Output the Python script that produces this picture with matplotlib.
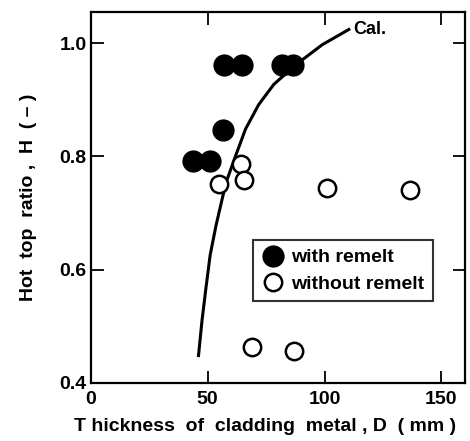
import matplotlib.pyplot as plt

plt.rcParams['font.family'] = ['Liberation Sans', 'DejaVu Sans']
plt.rcParams['font.weight'] = 'bold'
plt.rcParams['axes.labelweight'] = 'bold'

# data
with_x = [43.8, 51.1, 56.6, 57.2, 64.6, 81.8, 86.3]
with_y = [0.791, 0.791, 0.846, 0.962, 0.962, 0.962, 0.962]

without_x = [54.7, 64.4, 65.6, 101.1, 136.6, 69.0, 87.1]
without_y = [0.751, 0.787, 0.759, 0.744, 0.740, 0.463, 0.457]

# calculated curve
cal_x = [46.1, 47.6, 49.3, 51.1, 53.6, 55.9, 57.9, 61.9, 66.2, 71.8, 78.3,
         84.0, 90.4, 99.0, 110.4]
cal_y = [0.448, 0.510, 0.568, 0.626, 0.678, 0.719, 0.754, 0.800, 0.848, 0.891,
         0.927, 0.948, 0.970, 0.997, 1.024]

xticks = [0, 50, 100, 150]
yticks = [0.4, 0.6, 0.8, 1.0]

fig = plt.figure(figsize=(4.7, 4.41), dpi=100)
ax = fig.add_axes([0.193, 0.132, 0.796, 0.841])

ax.plot(cal_x, cal_y, color='black', lw=2.2, solid_joinstyle='round')
ax.text(112.3, 1.024, 'Cal.', fontsize=13, va='center', ha='left')

ax.plot(with_x, with_y, 'o', ms=14.5, mfc='black', mec='black', mew=1.5,
        ls='none', label='with remelt')
ax.plot(without_x, without_y, 'o', ms=12.5, mfc='white', mec='black', mew=1.8,
        ls='none', label='without remelt')

ax.set_xlim(0, 160)
ax.set_ylim(0.4, 1.055)
ax.set_xticks(xticks)
ax.set_yticks(yticks)
ax.set_xticklabels([str(v) for v in xticks])
ax.set_yticklabels(['%.1f' % v for v in yticks])
ax.tick_params(direction='in', length=9, width=1.3, labelsize=14,
               top=True, right=True, pad=3)
ax.tick_params(axis='x', pad=6)
for s in ax.spines.values():
    s.set_linewidth(1.6)

# axis titles placed as in the original scan
fig.text(0.565, 0.033, 'T hickness  of  cladding  metal , D  ( mm )',
         fontsize=14, fontweight='bold', ha='center', va='center')
fig.text(0.06, 0.552, 'Hot  top  ratio ,  H  ( – )', fontsize=14,
         fontweight='bold', ha='center', va='center', rotation=90)

leg = ax.legend(loc='upper left', bbox_to_anchor=(0.434, 0.385), fontsize=14,
                frameon=True, fancybox=False, edgecolor='black',
                handletextpad=0.3, borderpad=0.45, labelspacing=0.45,
                handlelength=1.2, borderaxespad=0)
leg.get_frame().set_linewidth(1.5)

fig.savefig('out.png', dpi=100)
